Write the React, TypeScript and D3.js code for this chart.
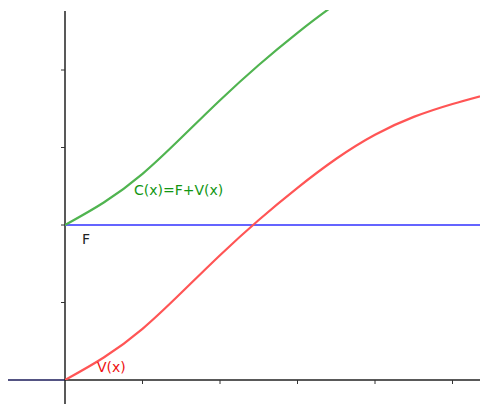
import React from "react";
import * as d3 from "d3";

const W = 480;
const H = 404;

// Data (units: one tick = 1)
const xTicks = [1, 2, 3, 4, 5];
const yTicks = [1, 2, 3, 4];
const fixedCost = 2;
const vX = [0, 0.5, 1, 1.5, 2, 2.5, 3, 3.5, 4, 4.5, 5, 5.5];
const vY = [0, 0.29, 0.66, 1.125, 1.61, 2.065, 2.48, 2.855, 3.165, 3.395, 3.562, 3.7];

const labelC = "C(x)=F+V(x)";
const labelV = "V(x)";
const labelF = "F";

export default function App() {
  const x = d3.scaleLinear().domain([0, 1]).range([65, 142.5]);
  const y = d3.scaleLinear().domain([0, 1]).range([380, 302.5]);
  const xMin = x.invert(8);
  const xMax = x.invert(480);
  const yTop = y.invert(10);

  const vPts: [number, number][] = vX.map((d, i) => [d, vY[i]]);
  const cPts: [number, number][] = vX.map((d, i) => [d, vY[i] + fixedCost]);

  const line = d3
    .line<[number, number]>()
    .x((d) => x(d[0]))
    .y((d) => y(d[1]))
    .curve(d3.curveNatural);

  const font = "'DejaVu Sans', sans-serif";

  return (
    <svg
      width={W}
      height={H}
      style={{ position: "absolute", left: 0, top: 0, background: "#fff" }}
    >
      <defs>
        <clipPath id="plot">
          <rect x={x(0)} y={10} width={x(xMax) - x(0)} height={y(0) - 10} />
        </clipPath>
      </defs>
      {/* x axis */}
      <line x1={x(xMin)} x2={x(0)} y1={y(0)} y2={y(0)} stroke="#1a1a5a" strokeWidth={1.5} />
      <line x1={x(0)} x2={x(xMax)} y1={y(0)} y2={y(0)} stroke="#222" strokeWidth={1.5} />
      {xTicks.map((t) => (
        <line key={"xt" + t} x1={x(t)} x2={x(t)} y1={y(0)} y2={y(0) + 4} stroke="#333" strokeWidth={1} />
      ))}
      {/* y axis */}
      <line x1={x(0)} x2={x(0)} y1={y(yTop) + 1} y2={H} stroke="#222" strokeWidth={1.5} />
      {yTicks.map((t) => (
        <line key={"yt" + t} x1={x(0) - 4} x2={x(0)} y1={y(t)} y2={y(t)} stroke="#333" strokeWidth={1} />
      ))}
      {/* F line */}
      <line
        x1={x(0)}
        x2={x(xMax)}
        y1={y(fixedCost)}
        y2={y(fixedCost)}
        stroke="#6464ff"
        strokeWidth={2}
      />
      <g clipPath="url(#plot)">
        <path d={line(cPts) || ""} fill="none" stroke="#50b450" strokeWidth={2.2} />
        <path d={line(vPts) || ""} fill="none" stroke="#ff5555" strokeWidth={2.2} />
      </g>
      <text x={134} y={195} fontFamily={font} fontSize={14} fill="#129612">
        {labelC}
      </text>
      <text x={82} y={244} fontFamily={font} fontSize={14} fill="#222">
        {labelF}
      </text>
      <text x={97} y={372} fontFamily={font} fontSize={14} fill="#ee1111">
        {labelV}
      </text>
    </svg>
  );
}
